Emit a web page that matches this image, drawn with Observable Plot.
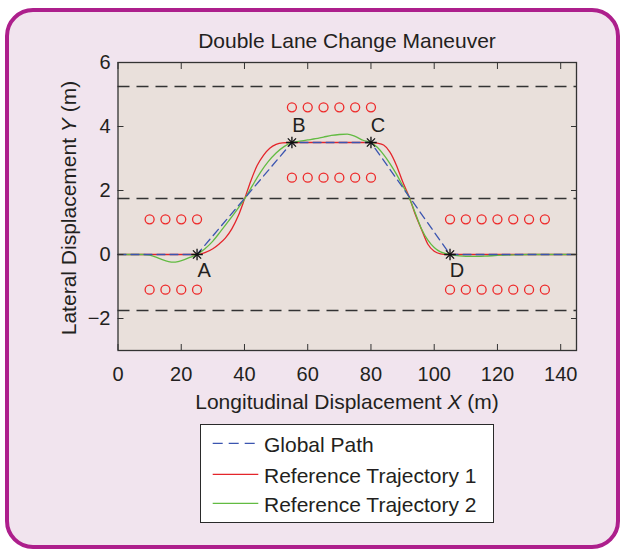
<!DOCTYPE html>
<html>
<head>
<meta charset="utf-8">
<script src="https://cdn.jsdelivr.net/npm/d3@7"></script>
<script src="https://cdn.jsdelivr.net/npm/@observablehq/plot@0.6"></script>
<style>
  body { margin: 0; background: #ffffff; }
  #wrap { position: relative; width: 623px; height: 550px; overflow: hidden; background: #ffffff;
          font-family: "Liberation Sans", Arial, Helvetica, sans-serif; color: #231f20; }
  #panel { position: absolute; left: 5px; top: 8px; width: 615px; height: 541px; box-sizing: border-box;
           border: 4px solid #ad1f8c; border-radius: 28px; background: #f1e4ee; }
  #chart { position: absolute; left: 0; top: 0; }
  .lbl { position: absolute; font-size: 21px; line-height: 21px; white-space: nowrap; text-align: center; }
  #title { left: 147px; width: 400px; top: 29.5px; }
  #xlab { left: 147px; width: 400px; top: 390.7px; }
  #ylab { left: 67.7px; top: 207.5px; width: 400px; transform: translate(-50%, -50%) rotate(-90deg); }
  #legend { position: absolute; left: 200px; top: 424px; width: 294px; height: 99px; box-sizing: border-box;
            background: #ffffff; border: 1px solid #2a2a2a; }
  #legend svg { position: absolute; left: -1px; top: -1px; }
</style>
</head>
<body>
<div id="wrap">
  <div id="panel"></div>
  <div id="chart"></div>
  <div id="title" class="lbl">Double Lane Change Maneuver</div>
  <div id="xlab" class="lbl">Longitudinal Displacement <i>X</i> (m)</div>
  <div id="ylab" class="lbl">Lateral Displacement <i>Y</i> (m)</div>
  <div id="legend"></div>
</div>
<script>
// ---- data ----
const xTicks = [0, 20, 40, 60, 80, 100, 120, 140];
const yTicks = [-2, 0, 2, 4, 6];
const laneY = [5.25, 1.75, -1.75];

const globalX = [0, 25, 55, 80, 105, 145];
const globalY = [0, 0, 3.5, 3.5, 0, 0];

const ref1X = [0, 25, 27.5, 30, 32, 34, 36, 38, 40, 42, 44, 46, 48, 50, 52, 54, 56, 80, 82, 84, 86, 88, 90, 92, 94, 96, 98, 100, 102, 104, 145];
const ref1Y = [0, 0, 0.06, 0.18, 0.33, 0.52, 0.8, 1.2, 1.73, 2.3, 2.78, 3.1, 3.32, 3.44, 3.49, 3.5, 3.5, 3.5, 3.48, 3.42, 3.2, 2.8, 2.28, 1.82, 1.26, 0.78, 0.32, 0.1, 0.02, 0, 0];

const ref2X = [0, 8, 10, 12, 14, 16, 17.5, 19, 21, 23, 25, 27.5, 30, 32.5, 35, 37.5, 40, 42.5, 45, 47.5, 50, 52.5, 55, 57.5, 60, 62.5, 65, 67.5, 70, 72.5, 75, 77.5, 80, 82, 84, 86, 88, 90, 92, 94, 96, 98, 100, 102, 104, 105, 108, 112, 116, 120, 125, 130, 145];
const ref2Y = [0, 0, -0.02, -0.08, -0.16, -0.22, -0.24, -0.22, -0.16, -0.08, 0, 0.18, 0.42, 0.73, 1.05, 1.38, 1.73, 2.15, 2.56, 2.9, 3.17, 3.37, 3.5, 3.54, 3.58, 3.62, 3.67, 3.72, 3.75, 3.76, 3.69, 3.57, 3.5, 3.35, 3.12, 2.84, 2.52, 2.16, 1.8, 1.3, 0.8, 0.45, 0.22, 0.08, 0.02, 0, -0.04, -0.06, -0.05, -0.03, -0.01, 0, 0];

const coneLeftX = [10, 15, 20, 25];
const coneTopX = [55, 60, 65, 70, 75, 80];
const coneRightX = [105, 110, 115, 120, 125, 130, 135];
const coneSideY = [1.1, -1.1];
const coneTopY = [4.6, 2.4];

const keyLabels = ["A", "B", "C", "D"];
const keyX = [25, 55, 80, 105];
const keyY = [0, 3.5, 3.5, 0];
const keyDy = [16, -17, -17, 16];

const seriesNames = ["Global Path", "Reference Trajectory 1", "Reference Trajectory 2"];
const seriesColors = ["#3b55b0", "#e4252b", "#62bb42"];

// ---- build tables ----
const zip = (X, Y) => X.map((x, i) => ({x, y: Y[i]}));
const globalData = zip(globalX, globalY);
const ref1Data = zip(ref1X, ref1Y);
const ref2Data = zip(ref2X, ref2Y);
const cones = [];
for (const y of coneSideY) { for (const x of coneLeftX) cones.push({x, y}); for (const x of coneRightX) cones.push({x, y}); }
for (const y of coneTopY) for (const x of coneTopX) cones.push({x, y});
const keys = keyLabels.map((t, i) => ({t, x: keyX[i], y: keyY[i], dy: keyDy[i]}));

const font = "'Liberation Sans', Arial, Helvetica, sans-serif";

const chart = Plot.plot({
  width: 623,
  height: 550,
  marginLeft: 117.5,
  marginRight: 47,
  marginTop: 62,
  marginBottom: 200,
  style: {background: "transparent", fontFamily: font, fontSize: "20px", color: "#231f20"},
  x: {domain: [0, 145]},
  y: {domain: [-3, 6]},
  marks: [
    Plot.frame({fill: "#e9e0db", stroke: null}),
    Plot.ruleY(laneY, {stroke: "#333333", strokeWidth: 1.3, strokeDasharray: "12,7"}),
    Plot.dot(cones, {x: "x", y: "y", r: 4.5, stroke: "#ee2a2a", strokeWidth: 1.3, fill: "none"}),
    Plot.line(ref1Data, {x: "x", y: "y", stroke: seriesColors[1], strokeWidth: 1.3, curve: "monotone-x"}),
    Plot.line(ref2Data, {x: "x", y: "y", stroke: seriesColors[2], strokeWidth: 1.3, curve: "monotone-x"}),
    Plot.line(globalData, {x: "x", y: "y", stroke: seriesColors[0], strokeWidth: 1.3, strokeDasharray: "8,5"}),
    Plot.dot(keys, {x: "x", y: "y", symbol: "plus", r: 3.8, stroke: "#111", strokeWidth: 1.3}),
    Plot.dot(keys, {x: "x", y: "y", symbol: "times", r: 3.8, stroke: "#111", strokeWidth: 1.3}),
    Plot.text(keys.filter(d => d.dy > 0), {x: "x", y: "y", text: "t", dx: 7, dy: 16, fontSize: 20, textAnchor: "middle", fill: "#231f20"}),
    Plot.text(keys.filter(d => d.dy < 0), {x: "x", y: "y", text: "t", dx: 7, dy: -17, fontSize: 20, textAnchor: "middle", fill: "#231f20"}),
    Plot.axisX({ticks: xTicks, tickSize: 0, tickPadding: 16, label: null, fontSize: 20}),
    Plot.axisX({ticks: xTicks, tickSize: -6, text: null, label: null, stroke: "#333"}),
    Plot.axisX({ticks: xTicks, anchor: "top", tickSize: -6, text: null, label: null, stroke: "#333"}),
    Plot.axisY({ticks: yTicks, tickSize: 0, tickPadding: 7.5, label: null, fontSize: 20}),
    Plot.axisY({ticks: yTicks, tickSize: -6, text: null, label: null, stroke: "#333"}),
    Plot.axisY({ticks: yTicks, anchor: "right", tickSize: -6, text: null, label: null, stroke: "#333"}),
    Plot.frame({stroke: "#333333", strokeWidth: 1.3})
  ]
});
document.getElementById("chart").appendChild(chart);

// ---- legend ----
const ns = "http://www.w3.org/2000/svg";
const lg = document.createElementNS(ns, "svg");
lg.setAttribute("width", 294);
lg.setAttribute("height", 99);
const rowsLine = [19.3, 50.3, 79.3];
const rowsText = [27.7, 58.7, 87.7];
seriesNames.forEach((name, i) => {
  const l = document.createElementNS(ns, "line");
  l.setAttribute("x1", 12.7); l.setAttribute("x2", 58.3);
  l.setAttribute("y1", rowsLine[i]); l.setAttribute("y2", rowsLine[i]);
  l.setAttribute("stroke", seriesColors[i]);
  l.setAttribute("stroke-width", 1.3);
  if (i === 0) l.setAttribute("stroke-dasharray", "10,6");
  lg.appendChild(l);
  const t = document.createElementNS(ns, "text");
  t.setAttribute("x", 64); t.setAttribute("y", rowsText[i]);
  t.setAttribute("font-size", 21);
  t.setAttribute("font-family", font);
  t.setAttribute("fill", "#231f20");
  t.textContent = name;
  lg.appendChild(t);
});
document.getElementById("legend").appendChild(lg);
</script>
</body>
</html>
